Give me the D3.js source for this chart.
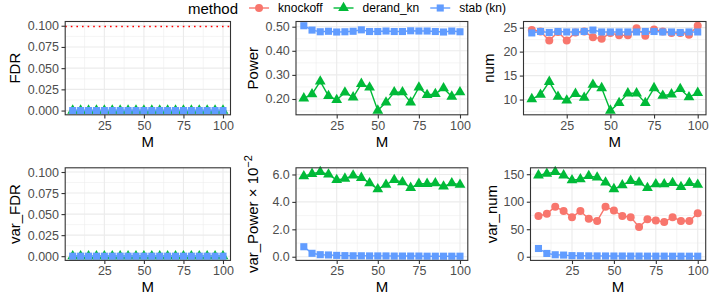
<!DOCTYPE html>
<html>
<head>
<meta charset="utf-8">
<script src="https://cdn.jsdelivr.net/npm/d3@7"></script>
<style>
body { margin: 0; background: #fff; }
text { font-family: "Liberation Sans", Arial, sans-serif; }
</style>
</head>
<body>
<div id="chart"></div>
<script>
// data
var M = [5, 10, 15, 20, 25, 30, 35, 40, 45, 50, 55, 60, 65, 70, 75, 80, 85, 90, 95, 100];
var methods = ["knockoff", "derand_kn", "stab (kn)"];
var colors = ["#F8766D", "#00BA38", "#619CFF"];
var shapes = ["circle", "triangle", "square"];

var fdrDerand = [0, 0, 0, 0, 0, 0, 0, 0, 0, 0, 0, 0, 0, 0, 0, 0, 0, 0, 0, 0];
var fdrStab = [0, 0, 0, 0, 0, 0, 0, 0, 0, 0, 0, 0, 0, 0, 0, 0, 0, 0, 0, 0];
var fdrTarget = 0.1;

var powerDerand = [0.203, 0.22, 0.273, 0.213, 0.196, 0.227, 0.207, 0.263, 0.248, 0.152,
    0.186, 0.228, 0.228, 0.186, 0.248, 0.217, 0.221, 0.245, 0.21, 0.228];
var powerStab = [0.504, 0.486, 0.479, 0.481, 0.478, 0.479, 0.481, 0.487, 0.48, 0.48,
    0.482, 0.48, 0.48, 0.483, 0.482, 0.482, 0.48, 0.478, 0.482, 0.479];

var numKnockoff = [24.5, 24.2, 22.3, 24.1, 22.3, 24.0, 24.2, 23.0, 22.7, 23.9,
    23.4, 23.4, 24.9, 23.3, 24.6, 24.2, 23.9, 23.9, 23.5, 25.4];
var numDerand = [10.1, 11.0, 13.7, 10.6, 9.8, 11.2, 10.4, 13.1, 12.4, 7.7,
    9.3, 11.3, 11.3, 9.3, 12.4, 10.8, 11.1, 12.2, 10.5, 11.4];
var numStab = [23.9, 24.2, 24.0, 24.2, 24.1, 24.1, 24.2, 24.5, 24.1, 24.1,
    24.1, 24.1, 24.1, 24.2, 24.2, 24.1, 24.1, 24.0, 24.1, 24.1];

var varFdrDerand = [0, 0, 0, 0, 0, 0, 0, 0, 0, 0, 0, 0, 0, 0, 0, 0, 0, 0, 0, 0];
var varFdrStab = [0, 0, 0, 0, 0, 0, 0, 0, 0, 0, 0, 0, 0, 0, 0, 0, 0, 0, 0, 0];

// var_Power in units of 10^-2
var varPowerDerand = [5.88, 6.05, 6.18, 6.0, 5.6, 5.7, 5.93, 5.76, 5.37, 4.93,
    5.25, 5.6, 5.44, 5.03, 5.32, 5.32, 5.37, 5.13, 5.37, 5.25];
var varPowerStab = [0.73, 0.25, 0.15, 0.13, 0.1, 0.08, 0.07, 0.07, 0.06, 0.06,
    0.06, 0.05, 0.05, 0.05, 0.05, 0.04, 0.04, 0.04, 0.04, 0.04];

var varNumKnockoff = [74, 78, 91, 83, 72, 83, 69, 65, 91, 84,
    74, 72, 54, 68, 66, 63, 72, 65, 65, 79];
var varNumDerand = [148, 151, 154, 148, 139, 141, 147, 144, 135, 123,
    130, 138, 135, 125, 132, 132, 134, 127, 134, 131];
var varNumStab = [15, 6, 3.6, 3, 2, 1.8, 1.6, 1.5, 1.4, 1.3,
    1.3, 1.2, 1.2, 1.1, 1.1, 1.1, 1, 1, 1, 1];

var xTicks = [25, 50, 75, 100];

var width = 714, height = 306;
var svg = d3.select("#chart").append("svg")
    .attr("xmlns", "http://www.w3.org/2000/svg")
    .attr("width", width)
    .attr("height", height);

var panels = [
    {title: "FDR", series: [null, fdrDerand, fdrStab], extra: [fdrTarget], hline: fdrTarget,
        ticks: [0, 0.025, 0.05, 0.075, 0.1], fmt: d3.format(".3f"),
        left: 65.2, right: 230.5, top: 21.5, bottom: 114.8, titleX: 20},
    {title: "Power", series: [null, powerDerand, powerStab], extra: [],
        ticks: [0.2, 0.3, 0.4, 0.5], fmt: d3.format(".2f"),
        left: 296, right: 467.8, top: 21.5, bottom: 114.8, titleX: 258},
    {title: "num", series: [numKnockoff, numDerand, numStab], extra: [],
        ticks: [10, 15, 20, 25], fmt: d3.format("d"),
        left: 523.5, right: 706, top: 21.5, bottom: 114.8, titleX: 494},
    {title: "var_FDR", series: [null, varFdrDerand, varFdrStab], extra: [0.1],
        ticks: [0, 0.025, 0.05, 0.075, 0.1], fmt: d3.format(".3f"),
        left: 65.2, right: 230.5, top: 167.8, bottom: 260.4, titleX: 20},
    {title: "var_Power", sup: true, series: [null, varPowerDerand, varPowerStab], extra: [],
        ticks: [0, 2, 4, 6], fmt: d3.format(".1f"),
        left: 296, right: 467.8, top: 167.8, bottom: 260.4, titleX: 258},
    {title: "var_num", series: [varNumKnockoff, varNumDerand, varNumStab], extra: [],
        ticks: [0, 50, 100, 150], fmt: d3.format("d"),
        left: 530.5, right: 705.7, top: 167.8, bottom: 260.4, titleX: 497}
];

var R = 4;
function drawShape(g, shape, x, y, col) {
    if (shape == "circle") {
        g.append("circle").attr("cx", x).attr("cy", y).attr("r", R).attr("fill", col);
    } else if (shape == "square") {
        var h = 0.886 * R;
        g.append("rect").attr("x", x - h).attr("y", y - h)
            .attr("width", 2 * h).attr("height", 2 * h).attr("fill", col);
    } else {
        var r = 1.555 * R, xc = 1.3468 * R, yc = 0.7776 * R;
        g.append("path")
            .attr("d", "M" + x + "," + (y - r) + "L" + (x + xc) + "," + (y + yc) + "L" + (x - xc) + "," + (y + yc) + "Z")
            .attr("fill", col);
    }
}

panels.forEach(function (p) {
    var g = svg.append("g");

    var x = d3.scaleLinear().domain([0.25, 104.75]).range([p.left, p.right]);

    var all = p.extra.slice();
    p.series.forEach(function (s) { if (s) all = all.concat(s); });
    var ext = d3.extent(all);
    var pad = (ext[1] - ext[0]) * 0.05;
    var y = d3.scaleLinear().domain([ext[0] - pad, ext[1] + pad]).range([p.bottom, p.top]);

    // minor grid
    var xMinor = [12.5, 37.5, 62.5, 87.5];
    var step = p.ticks[1] - p.ticks[0];
    var yMinor = [];
    for (var i = 0; i < p.ticks.length + 1; i++) {
        var v = p.ticks[0] - step / 2 + i * step;
        if (v > y.domain()[0] && v < y.domain()[1]) yMinor.push(v);
    }
    g.selectAll(".xminor").data(xMinor).enter().append("line")
        .attr("x1", d => x(d)).attr("x2", d => x(d))
        .attr("y1", p.top).attr("y2", p.bottom)
        .attr("stroke", "#EBEBEB").attr("stroke-width", 0.55);
    g.selectAll(".yminor").data(yMinor).enter().append("line")
        .attr("x1", p.left).attr("x2", p.right)
        .attr("y1", d => y(d)).attr("y2", d => y(d))
        .attr("stroke", "#EBEBEB").attr("stroke-width", 0.55);
    // major grid
    g.selectAll(".xmajor").data(xTicks).enter().append("line")
        .attr("x1", d => x(d)).attr("x2", d => x(d))
        .attr("y1", p.top).attr("y2", p.bottom)
        .attr("stroke", "#EBEBEB").attr("stroke-width", 1.1);
    g.selectAll(".ymajor").data(p.ticks).enter().append("line")
        .attr("x1", p.left).attr("x2", p.right)
        .attr("y1", d => y(d)).attr("y2", d => y(d))
        .attr("stroke", "#EBEBEB").attr("stroke-width", 1.1);

    if (p.hline != null) {
        var hy = Math.round(y(p.hline)) + 0.5;
        g.append("line")
            .attr("x1", p.left).attr("x2", p.right)
            .attr("y1", hy).attr("y2", hy)
            .attr("stroke", "#FF0000").attr("stroke-width", 1.6)
            .attr("stroke-dasharray", "1.6,4");
    }

    // series
    p.series.forEach(function (s, k) {
        if (!s) return;
        var line = d3.line().x((d, i) => x(M[i])).y(d => y(d));
        g.append("path").datum(s)
            .attr("d", line)
            .attr("fill", "none")
            .attr("stroke", colors[k])
            .attr("stroke-width", 1.4);
        s.forEach(function (d, i) {
            drawShape(g, shapes[k], x(M[i]), y(d), colors[k]);
        });
    });

    // border
    g.append("rect")
        .attr("x", p.left).attr("y", p.top)
        .attr("width", p.right - p.left).attr("height", p.bottom - p.top)
        .attr("fill", "none").attr("stroke", "#333333").attr("stroke-width", 1.1);

    // axes
    var xAxis = g.append("g").attr("transform", "translate(0," + p.bottom + ")")
        .call(d3.axisBottom(x).tickValues(xTicks).tickSize(3.7).tickPadding(2.5));
    var yAxis = g.append("g").attr("transform", "translate(" + p.left + ",0)")
        .call(d3.axisLeft(y).tickValues(p.ticks).tickFormat(p.fmt).tickSize(3.7).tickPadding(2.5));
    [xAxis, yAxis].forEach(function (a) {
        a.select(".domain").remove();
        a.selectAll(".tick line").attr("stroke", "#333333").attr("stroke-width", 1.1);
        a.selectAll(".tick text").attr("fill", "#4D4D4D")
            .style("font-size", "12.5px")
            .style("font-family", "'Liberation Sans', Arial, sans-serif");
    });

    // axis titles
    g.append("text")
        .attr("x", (p.left + p.right) / 2)
        .attr("y", p.bottom + 32)
        .attr("text-anchor", "middle")
        .style("font-size", "15px")
        .text("M");

    var cy = (p.top + p.bottom) / 2;
    var t = g.append("text")
        .attr("transform", "translate(" + p.titleX + "," + cy + ") rotate(-90)")
        .attr("text-anchor", "middle")
        .style("font-size", "15px");
    if (p.sup) {
        t.append("tspan").text(p.title + " \u00D7 10");
        t.append("tspan").attr("dy", -6).style("font-size", "11px").text("\u22122");
    } else {
        t.text(p.title);
    }
});

// legend
var leg = svg.append("g").attr("transform", "translate(0,8)");
var lt = leg.append("text").attr("x", 188).attr("y", 5.5)
    .style("font-size", "15px").text("method");
var lx = 188 + lt.node().getComputedTextLength() + 11;
methods.forEach(function (m, k) {
    leg.append("line").attr("x1", lx).attr("x2", lx + 20)
        .attr("y1", 0).attr("y2", 0)
        .attr("stroke", colors[k]).attr("stroke-width", 1.4);
    drawShape(leg, shapes[k], lx + 10, 0, colors[k]);
    var tx = leg.append("text").attr("x", lx + 29).attr("y", 4.3)
        .style("font-size", "12px").text(m);
    lx = lx + 29 + tx.node().getComputedTextLength() + 11;
});
</script>
</body>
</html>
